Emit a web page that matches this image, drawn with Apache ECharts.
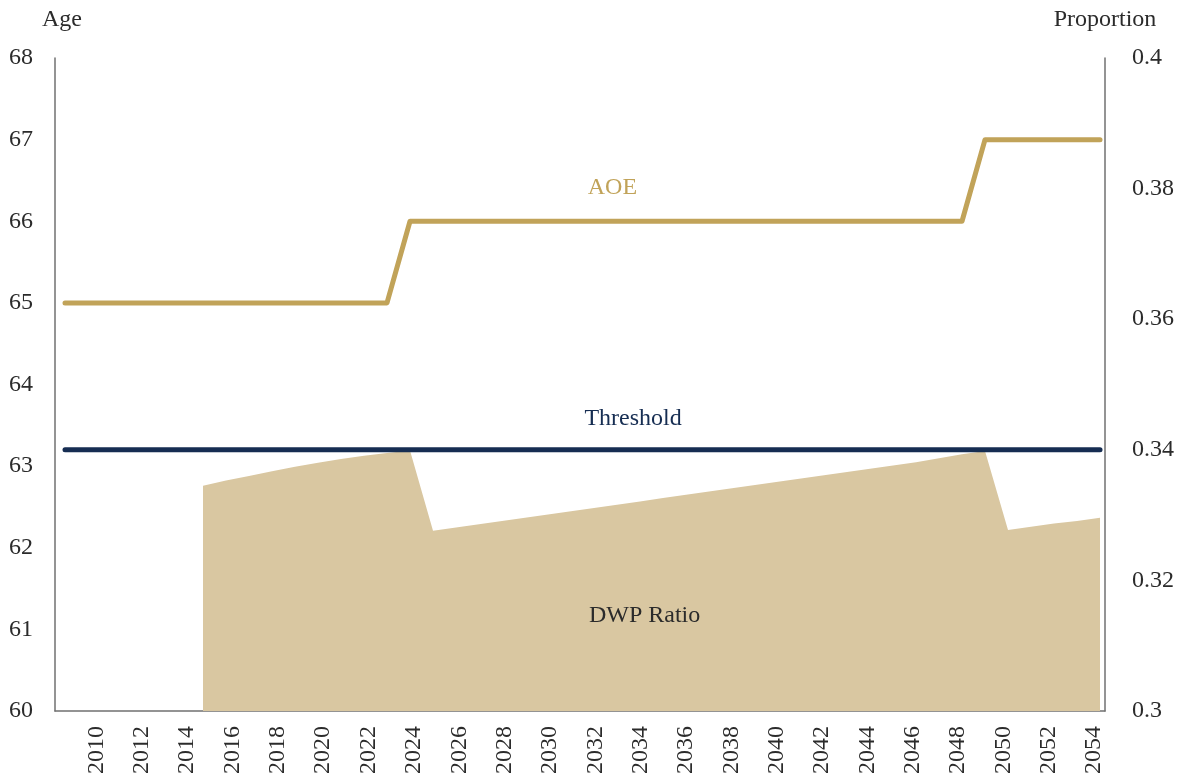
<!DOCTYPE html>
<html>
<head>
<meta charset="utf-8">
<script src="https://cdn.jsdelivr.net/npm/echarts@6/dist/echarts.min.js"></script>
<style>
  html, body { margin: 0; padding: 0; background: #fff; }
  #chart { width: 1178px; height: 782px; }
</style>
</head>
<body>
<div id="chart"></div>
<script>
// data
const years = [2009, 2010, 2011, 2012, 2013, 2014, 2015, 2016, 2017, 2018, 2019, 2020, 2021, 2022, 2023,
  2024, 2025, 2026, 2027, 2028, 2029, 2030, 2031, 2032, 2033, 2034, 2035, 2036, 2037, 2038, 2039,
  2040, 2041, 2042, 2043, 2044, 2045, 2046, 2047, 2048, 2049, 2050, 2051, 2052, 2053, 2054]

const aoe = [65, 65, 65, 65, 65, 65, 65, 65, 65, 65, 65, 65, 65, 65, 65,
  66, 66, 66, 66, 66, 66, 66, 66, 66, 66, 66, 66, 66, 66, 66, 66,
  66, 66, 66, 66, 66, 66, 66, 66, 66, 67, 67, 67, 67, 67, 67]

const dwpRatio = [null, null, null, null, null, null, 0.3345, 0.3353, 0.3360, 0.3367, 0.3374, 0.3380, 0.3386, 0.3391, 0.3395,
  0.3399, 0.3276, 0.3281, 0.3286, 0.3291, 0.3296, 0.3301, 0.3306, 0.3311, 0.3316, 0.3321, 0.3326, 0.3331, 0.3336, 0.3341, 0.3346,
  0.3351, 0.3356, 0.3361, 0.3366, 0.3371, 0.3376, 0.3381, 0.3387, 0.3393, 0.3398, 0.3277, 0.3282, 0.3287, 0.3291, 0.3296]

const threshold = 0.34
const yearLabels = [2010, 2012, 2014, 2016, 2018, 2020, 2022, 2024, 2026, 2028, 2030, 2032,
  2034, 2036, 2038, 2040, 2042, 2044, 2046, 2048, 2050, 2052, 2054]

const gold = '#c1a359'
const beige = '#d9c7a1'
const navy = '#162d52'
const axisGray = '#707070'
const font = 'Liberation Serif'

const chartInstance = echarts.init(document.getElementById('chart'))

const option = {
  animation: false,
  textStyle: { fontFamily: font },
  grid: { left: 55, right: 73, top: 58, bottom: 71 },
  xAxis: [
    {
      type: 'value',
      min: 2008.565,
      max: 2054.217,
      position: 'bottom',
      axisLine: { show: true, lineStyle: { color: axisGray, width: 1.5 } },
      axisTick: { show: false },
      axisLabel: { show: false },
      splitLine: { show: false }
    },
    {
      // label-only axis, the source's year labels sit on a slightly different spacing
      type: 'value',
      min: 2008.17,
      max: 2054.485,
      position: 'bottom',
      offset: 0,
      axisLine: { show: false },
      axisTick: { show: false },
      splitLine: { show: false },
      axisLabel: {
        customValues: yearLabels,
        rotate: 90,
        margin: 15,
        fontSize: 24,
        fontFamily: font,
        color: '#2b2b2b',
        formatter: v => String(v)
      }
    }
  ],
  yAxis: [
    {
      type: 'value',
      name: 'Age',
      nameLocation: 'end',
      nameGap: 26,
      nameTextStyle: { fontSize: 24, fontFamily: font, color: '#2b2b2b', padding: [0, 0, 0, 14] },
      min: 60,
      max: 68,
      interval: 1,
      position: 'left',
      axisLine: { show: true, lineStyle: { color: axisGray, width: 1.5 } },
      axisTick: { show: false },
      splitLine: { show: false },
      axisLabel: { margin: 22, fontSize: 24, fontFamily: font, color: '#2b2b2b' }
    },
    {
      type: 'value',
      name: 'Proportion',
      nameLocation: 'end',
      nameGap: 26,
      nameTextStyle: { fontSize: 24, fontFamily: font, color: '#2b2b2b' },
      min: 0.3,
      max: 0.4,
      interval: 0.02,
      position: 'right',
      axisLine: { show: true, lineStyle: { color: axisGray, width: 1.5 } },
      axisTick: { show: false },
      splitLine: { show: false },
      axisLabel: { margin: 27, fontSize: 24, fontFamily: font, color: '#2b2b2b' }
    }
  ],
  series: [
    {
      name: 'DWP Ratio',
      type: 'line',
      xAxisIndex: 0,
      yAxisIndex: 1,
      symbol: 'none',
      connectNulls: false,
      data: years.map((y, i) => [y, dwpRatio[i]]),
      lineStyle: { width: 0, color: beige },
      areaStyle: { color: beige, opacity: 1 },
      markPoint: {
        symbolSize: 0,
        data: [{ coord: [2034.2, 0.3146] }],
        label: {
          show: true,
          position: 'inside',
          formatter: 'DWP Ratio',
          fontSize: 24,
          fontFamily: font,
          color: '#2b2b2b'
        }
      }
    },
    {
      name: 'Threshold',
      type: 'line',
      xAxisIndex: 0,
      yAxisIndex: 1,
      symbol: 'none',
      data: [[years[0], threshold], [years[years.length - 1], threshold]],
      lineStyle: { width: 5, color: navy, cap: 'round' },
      markPoint: {
        symbolSize: 0,
        data: [{ coord: [2033.7, 0.3447] }],
        label: {
          show: true,
          position: 'inside',
          formatter: 'Threshold',
          fontSize: 24,
          fontFamily: font,
          color: navy
        }
      }
    },
    {
      name: 'AOE',
      type: 'line',
      xAxisIndex: 0,
      yAxisIndex: 0,
      symbol: 'none',
      data: years.map((y, i) => [y, aoe[i]]),
      lineStyle: { width: 5, color: gold, cap: 'round', join: 'round' },
      markPoint: {
        symbolSize: 0,
        data: [{ coord: [2032.8, 66.41] }],
        label: {
          show: true,
          position: 'inside',
          formatter: 'AOE',
          fontSize: 24,
          fontFamily: font,
          color: gold
        }
      }
    }
  ]
}

chartInstance.setOption(option)
</script>
</body>
</html>
